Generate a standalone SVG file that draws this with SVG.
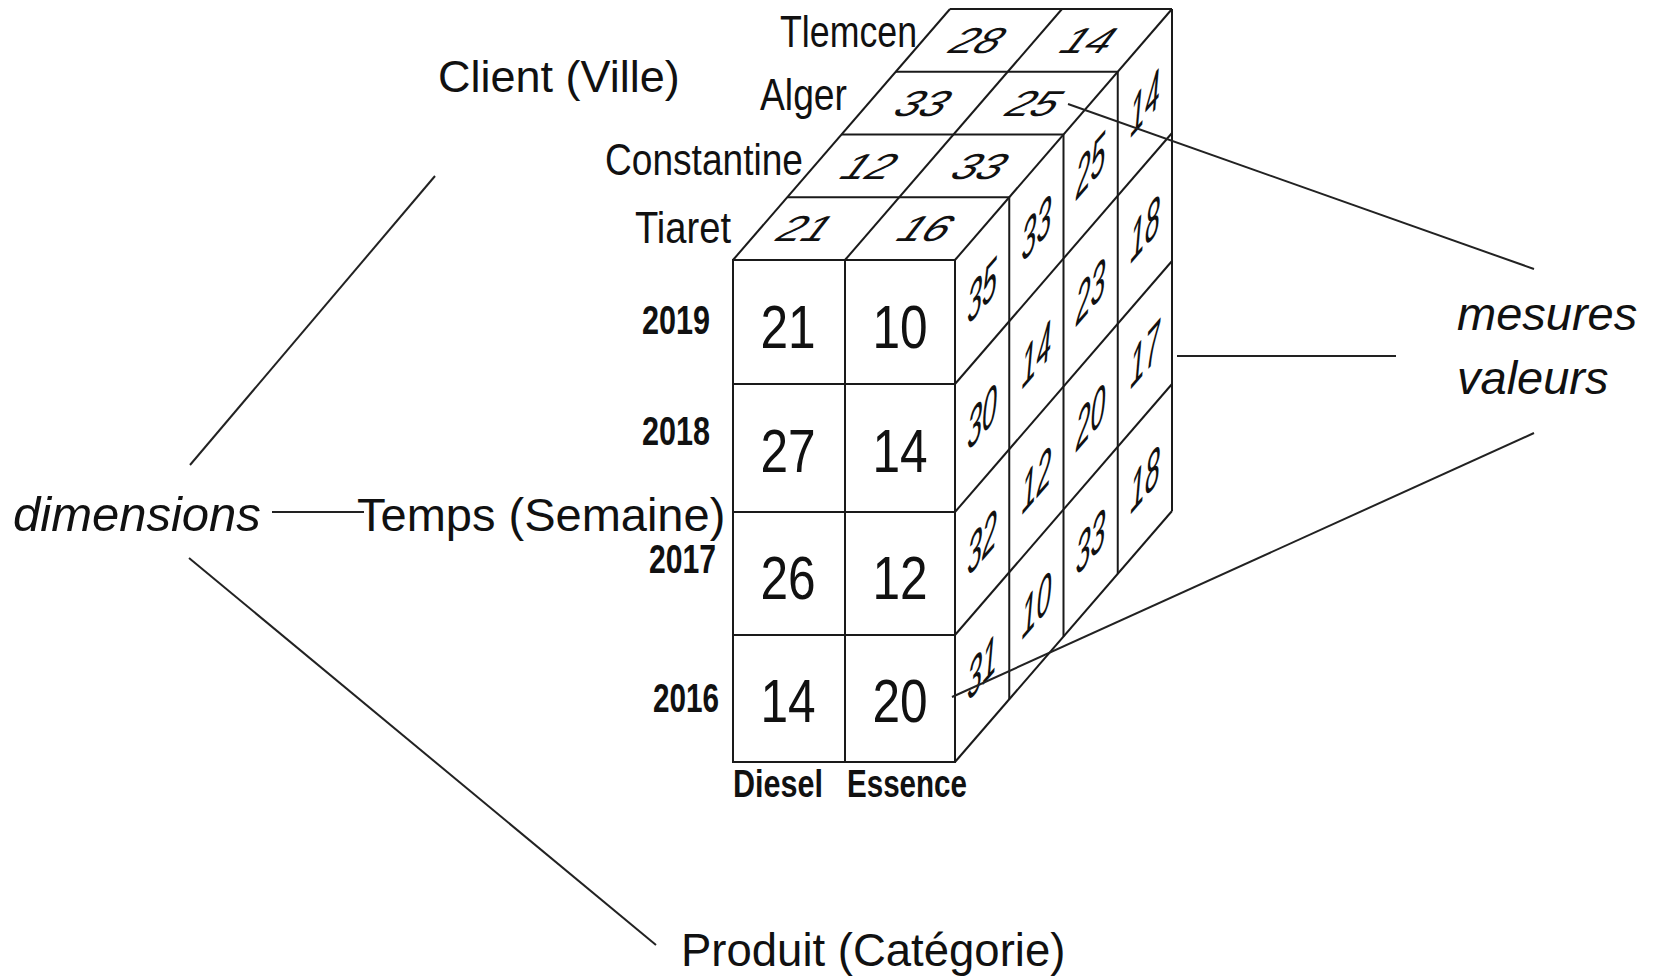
<svg xmlns="http://www.w3.org/2000/svg" width="1655" height="977" viewBox="0 0 1655 977">
<style>
.ln{stroke:#1a1a1a;stroke-width:2;fill:none;stroke-linejoin:miter}
.face{fill:#fff;stroke:none}
.con{stroke:#222;stroke-width:2;fill:none}
.lbl{font-family:"Liberation Sans",Arial,sans-serif;fill:#111}
.it{font-style:italic}
.city{font-family:"Liberation Sans",Arial,sans-serif;font-size:44px;fill:#111}
.yr{font-family:"Liberation Sans",Arial,sans-serif;font-size:40px;font-weight:bold;fill:#111}
.fn{font-family:"Liberation Sans",Arial,sans-serif;font-size:62px;fill:#111;text-anchor:middle}
.rn{font-family:"Liberation Sans",Arial,sans-serif;font-size:46px;font-style:italic;fill:#111;text-anchor:middle}
.tn{font-family:"Liberation Sans",Arial,sans-serif;font-size:40px;fill:#111;text-anchor:middle}
</style>
<rect width="1655" height="977" fill="#fff"/>

<g id="cube">
<polygon class="face" points="733,260 955,260 1172,9 950,9"/>
<polygon class="face" points="955,260 1172,9 1172,511 955,762"/>
<rect class="face" x="733" y="260" width="222" height="502"/>
<g id="front-face">
<rect class="ln" x="733" y="260" width="222" height="502"/>
<line class="ln" x1="845" y1="260" x2="845" y2="762"/>
<line class="ln" x1="733" y1="384" x2="955" y2="384"/>
<line class="ln" x1="733" y1="512" x2="955" y2="512"/>
<line class="ln" x1="733" y1="635" x2="955" y2="635"/>
</g>
<g id="top-face">
<line class="ln" x1="733" y1="260" x2="950" y2="9"/>
<line class="ln" x1="845" y1="260" x2="1062" y2="9"/>
<line class="ln" x1="955" y1="260" x2="1172" y2="9"/>
<line class="ln" x1="787.25" y1="197.25" x2="1009.25" y2="197.25"/>
<line class="ln" x1="841.5" y1="134.5" x2="1063.5" y2="134.5"/>
<line class="ln" x1="895.75" y1="71.75" x2="1117.75" y2="71.75"/>
<line class="ln" x1="950" y1="9" x2="1172" y2="9"/>
</g>
<g id="right-face">
<line class="ln" x1="1009.25" y1="197.25" x2="1009.25" y2="699.25" stroke-width="2.5"/>
<line class="ln" x1="1063.5" y1="134.5" x2="1063.5" y2="636.5" stroke-width="2.5"/>
<line class="ln" x1="1117.75" y1="71.75" x2="1117.75" y2="573.75" stroke-width="2.5"/>
<line class="ln" x1="1172" y1="9" x2="1172" y2="511"/>
<line class="ln" x1="955" y1="384" x2="1172" y2="133"/>
<line class="ln" x1="955" y1="512" x2="1172" y2="261"/>
<line class="ln" x1="955" y1="635" x2="1172" y2="384"/>
<line class="ln" x1="955" y1="762" x2="1172" y2="511"/>
</g>

<g id="front-values">
<text class="fn" transform="translate(788,348) scale(0.8,1)">21</text>
<text class="fn" transform="translate(900,348) scale(0.8,1)">10</text>
<text class="fn" transform="translate(788,472) scale(0.8,1)">27</text>
<text class="fn" transform="translate(900,472) scale(0.8,1)">14</text>
<text class="fn" transform="translate(788,599) scale(0.8,1)">26</text>
<text class="fn" transform="translate(900,599) scale(0.8,1)">12</text>
<text class="fn" transform="translate(788,722) scale(0.8,1)">14</text>
<text class="fn" transform="translate(900,722) scale(0.8,1)">20</text>
</g>

<g id="top-values">
<text class="tn" y="14" transform="matrix(1.1,0,-0.7,0.9,806,228.6)">21</text>
<text class="tn" y="14" transform="matrix(1.1,0,-0.7,0.9,926.6,228.6)">16</text>
<text class="tn" y="14" transform="matrix(1.1,0,-0.7,0.9,870,165.9)">12</text>
<text class="tn" y="14" transform="matrix(1.1,0,-0.7,0.9,980.9,165.9)">33</text>
<text class="tn" y="14" transform="matrix(1.1,0,-0.7,0.9,924.1,103.1)">33</text>
<text class="tn" y="14" transform="matrix(1.1,0,-0.7,0.9,1035.1,103.1)">25</text>
<text class="tn" y="14" transform="matrix(1.1,0,-0.7,0.9,978.4,40.4)">28</text>
<text class="tn" y="14" transform="matrix(1.1,0,-0.7,0.9,1089.4,40.4)">14</text>
</g>

<g id="right-values">
<text class="rn" y="16" transform="matrix(0.58,-0.67,0,1.18,982.1,290.6)">35</text>
<text class="rn" y="16" transform="matrix(0.58,-0.67,0,1.18,982.1,416.6)">30</text>
<text class="rn" y="16" transform="matrix(0.58,-0.67,0,1.18,982.1,542.1)">32</text>
<text class="rn" y="16" transform="matrix(0.58,-0.67,0,1.18,982.1,667.1)">31</text>
<text class="rn" y="16" transform="matrix(0.58,-0.67,0,1.18,1036.4,227.9)">33</text>
<text class="rn" y="16" transform="matrix(0.58,-0.67,0,1.18,1036.4,353.9)">14</text>
<text class="rn" y="16" transform="matrix(0.58,-0.67,0,1.18,1036.4,479.4)">12</text>
<text class="rn" y="16" transform="matrix(0.58,-0.67,0,1.18,1036.4,604.4)">10</text>
<text class="rn" y="16" transform="matrix(0.58,-0.67,0,1.18,1090.6,165.1)">25</text>
<text class="rn" y="16" transform="matrix(0.58,-0.67,0,1.18,1090.6,291.1)">23</text>
<text class="rn" y="16" transform="matrix(0.58,-0.67,0,1.18,1090.6,416.6)">20</text>
<text class="rn" y="16" transform="matrix(0.58,-0.67,0,1.18,1090.6,541.6)">33</text>
<text class="rn" y="16" transform="matrix(0.58,-0.67,0,1.18,1144.9,102.4)">14</text>
<text class="rn" y="16" transform="matrix(0.58,-0.67,0,1.18,1144.9,228.4)">18</text>
<text class="rn" y="16" transform="matrix(0.58,-0.67,0,1.18,1144.9,353.9)">17</text>
<text class="rn" y="16" transform="matrix(0.58,-0.67,0,1.18,1144.9,478.9)">18</text>
</g>
</g>

<g id="connectors">
<line class="con" x1="190" y1="465" x2="435" y2="176"/>
<line class="con" x1="272" y1="512" x2="364" y2="512"/>
<line class="con" x1="189" y1="558" x2="656" y2="945"/>
<line class="con" x1="1068" y1="104" x2="1534" y2="269"/>
<line class="con" x1="1177" y1="356" x2="1396" y2="356"/>
<line class="con" x1="952" y1="697" x2="1534" y2="433"/>
</g>

<g id="cities">
<text class="city" x="780" y="47" textLength="137" lengthAdjust="spacingAndGlyphs">Tlemcen</text>
<text class="city" x="760" y="110" textLength="87" lengthAdjust="spacingAndGlyphs">Alger</text>
<text class="city" x="605" y="175" textLength="198" lengthAdjust="spacingAndGlyphs">Constantine</text>
<text class="city" x="635" y="243" textLength="96" lengthAdjust="spacingAndGlyphs">Tiaret</text>
</g>

<g id="years">
<text class="yr" x="642" y="334" textLength="68" lengthAdjust="spacingAndGlyphs">2019</text>
<text class="yr" x="642" y="445" textLength="68" lengthAdjust="spacingAndGlyphs">2018</text>
<text class="yr" x="649" y="573" textLength="67" lengthAdjust="spacingAndGlyphs">2017</text>
<text class="yr" x="653" y="712" textLength="66" lengthAdjust="spacingAndGlyphs">2016</text>
</g>

<g id="categories">
<text class="yr" x="733" y="797" textLength="90" lengthAdjust="spacingAndGlyphs" style="font-size:38px">Diesel</text>
<text class="yr" x="847" y="797" textLength="120" lengthAdjust="spacingAndGlyphs" style="font-size:38px">Essence</text>
</g>

<g id="client">
<text class="lbl" x="438" y="92" font-size="45">Client (Ville)</text>
</g>
<g id="dimensions">
<text class="lbl it" x="13" y="531" font-size="49">dimensions</text>
</g>
<g id="temps">
<text class="lbl" x="357" y="531" font-size="47">Temps (Semaine)</text>
</g>
<g id="produit">
<text class="lbl" x="681" y="966" font-size="45.5">Produit (Catégorie)</text>
</g>
<g id="mesures">
<text class="lbl it" x="1457" y="330" font-size="47">mesures</text>
<text class="lbl it" x="1457" y="394" font-size="47">valeurs</text>
</g>
</svg>
